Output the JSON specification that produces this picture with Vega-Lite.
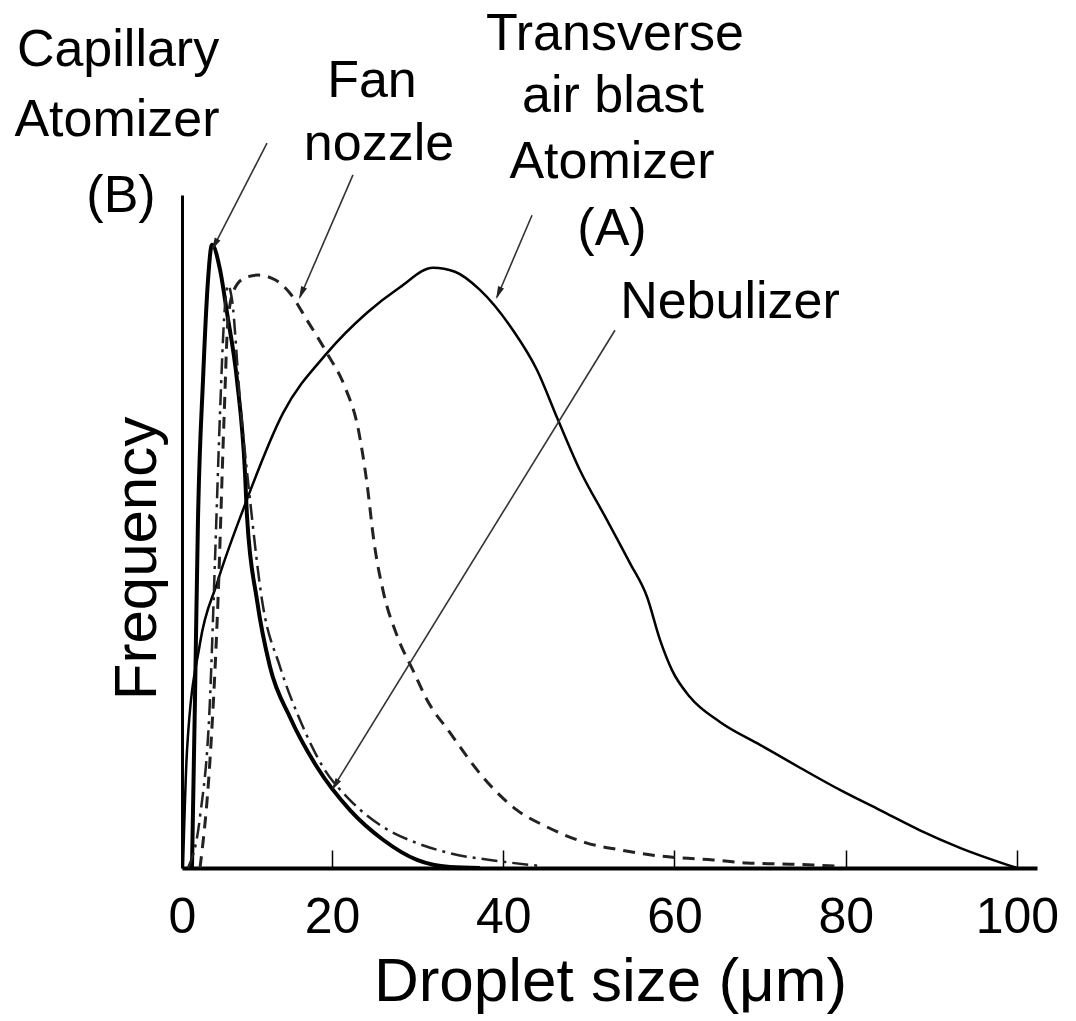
{
  "$schema": "https://vega.github.io/schema/vega-lite/v6.json",
  "width": 855,
  "height": 673,
  "autosize": {"type": "none"},
  "padding": {"left": 182, "top": 195, "right": 39, "bottom": 153},
  "background": "white",
  "config": {"view": {"stroke": null}, "font": "Liberation Sans"},
  "datasets": {
    "curves": [
      {"s": "A", "x": 0.13, "y": 0},
      {"s": "A", "x": 0.67, "y": 17.5},
      {"s": "A", "x": 2.4, "y": 33.4},
      {"s": "A", "x": 4.67, "y": 42.3},
      {"s": "A", "x": 8.13, "y": 53.2},
      {"s": "A", "x": 13.47, "y": 67.6},
      {"s": "A", "x": 19.33, "y": 76.5},
      {"s": "A", "x": 24.09, "y": 82.5},
      {"s": "A", "x": 27.94, "y": 86.3},
      {"s": "A", "x": 31.8, "y": 89.2},
      {"s": "A", "x": 34.36, "y": 88.6},
      {"s": "A", "x": 37.28, "y": 85.9},
      {"s": "A", "x": 41.14, "y": 79.9},
      {"s": "A", "x": 43.94, "y": 74.0},
      {"s": "A", "x": 46.39, "y": 66.6},
      {"s": "A", "x": 48.96, "y": 59.1},
      {"s": "A", "x": 52.12, "y": 51.7},
      {"s": "A", "x": 54.8, "y": 45.3},
      {"s": "A", "x": 56.79, "y": 40.3},
      {"s": "A", "x": 58.31, "y": 33.9},
      {"s": "A", "x": 59.71, "y": 29.4},
      {"s": "A", "x": 61.81, "y": 25.4},
      {"s": "A", "x": 65.31, "y": 21.7},
      {"s": "A", "x": 69.99, "y": 18.3},
      {"s": "A", "x": 74.66, "y": 14.9},
      {"s": "A", "x": 79.33, "y": 11.6},
      {"s": "A", "x": 84.0, "y": 8.6},
      {"s": "A", "x": 88.67, "y": 5.6},
      {"s": "A", "x": 93.34, "y": 3.0},
      {"s": "A", "x": 100, "y": 0},
      {"s": "B", "x": 1.33, "y": 0},
      {"s": "B", "x": 1.73, "y": 25.0},
      {"s": "B", "x": 2.13, "y": 51.7},
      {"s": "B", "x": 2.8, "y": 72.5},
      {"s": "B", "x": 3.47, "y": 87.4},
      {"s": "B", "x": 4.0, "y": 92.6},
      {"s": "B", "x": 5.07, "y": 88.9},
      {"s": "B", "x": 6.0, "y": 82.5},
      {"s": "B", "x": 7.33, "y": 72.5},
      {"s": "B", "x": 8.4, "y": 58.7},
      {"s": "B", "x": 8.67, "y": 52.2},
      {"s": "B", "x": 10.0, "y": 39.8},
      {"s": "B", "x": 11.73, "y": 29.9},
      {"s": "B", "x": 14.4, "y": 22.4},
      {"s": "B", "x": 18.0, "y": 15.0},
      {"s": "B", "x": 22.1, "y": 8.6},
      {"s": "B", "x": 25.96, "y": 4.2},
      {"s": "B", "x": 29.93, "y": 1.2},
      {"s": "B", "x": 33.78, "y": 0.15},
      {"s": "B", "x": 37.3, "y": 0},
      {"s": "F", "x": 2.4, "y": 0},
      {"s": "F", "x": 3.73, "y": 16.0},
      {"s": "F", "x": 4.8, "y": 39.8},
      {"s": "F", "x": 5.6, "y": 66.6},
      {"s": "F", "x": 6.13, "y": 81.4},
      {"s": "F", "x": 6.93, "y": 85.9},
      {"s": "F", "x": 8.4, "y": 87.7},
      {"s": "F", "x": 10.13, "y": 88.1},
      {"s": "F", "x": 12.4, "y": 87.4},
      {"s": "F", "x": 14.4, "y": 85.4},
      {"s": "F", "x": 16.67, "y": 81.4},
      {"s": "F", "x": 19.33, "y": 76.5},
      {"s": "F", "x": 21.5, "y": 71.5},
      {"s": "F", "x": 23.1, "y": 65.0},
      {"s": "F", "x": 24.1, "y": 57.0},
      {"s": "F", "x": 24.9, "y": 48.5},
      {"s": "F", "x": 26.0, "y": 41.0},
      {"s": "F", "x": 27.6, "y": 34.5},
      {"s": "F", "x": 29.6, "y": 29.0},
      {"s": "F", "x": 31.09, "y": 25.0},
      {"s": "F", "x": 33.78, "y": 20.1},
      {"s": "F", "x": 37.63, "y": 13.5},
      {"s": "F", "x": 41.61, "y": 8.6},
      {"s": "F", "x": 45.11, "y": 6.1},
      {"s": "F", "x": 49.78, "y": 3.7},
      {"s": "F", "x": 53.64, "y": 2.7},
      {"s": "F", "x": 57.49, "y": 1.9},
      {"s": "F", "x": 60.65, "y": 1.5},
      {"s": "F", "x": 64.5, "y": 1.2},
      {"s": "F", "x": 68.47, "y": 0.74},
      {"s": "F", "x": 72.33, "y": 0.6},
      {"s": "F", "x": 76.18, "y": 0.45},
      {"s": "F", "x": 78.75, "y": 0.3},
      {"s": "N", "x": 0.8, "y": 0},
      {"s": "N", "x": 2.4, "y": 7.6},
      {"s": "N", "x": 3.73, "y": 25.0},
      {"s": "N", "x": 4.4, "y": 45.8},
      {"s": "N", "x": 5.07, "y": 67.6},
      {"s": "N", "x": 5.6, "y": 81.4},
      {"s": "N", "x": 6.13, "y": 86.6},
      {"s": "N", "x": 6.67, "y": 84.4},
      {"s": "N", "x": 7.73, "y": 69.5},
      {"s": "N", "x": 9.07, "y": 54.7},
      {"s": "N", "x": 10.67, "y": 39.8},
      {"s": "N", "x": 13.07, "y": 29.9},
      {"s": "N", "x": 15.73, "y": 22.0},
      {"s": "N", "x": 18.8, "y": 15.0},
      {"s": "N", "x": 22.1, "y": 10.1},
      {"s": "N", "x": 25.96, "y": 6.1},
      {"s": "N", "x": 29.93, "y": 3.7},
      {"s": "N", "x": 33.78, "y": 2.2},
      {"s": "N", "x": 39.6, "y": 1.0},
      {"s": "N", "x": 44.3, "y": 0.3}
    ],
    "labels": [
      {"t": "Capillary", "x": -8.53, "y": 119.2},
      {"t": "Atomizer", "x": -8.67, "y": 108.8},
      {"t": "(B)", "x": -8.13, "y": 97.5},
      {"t": "Fan", "x": 24.67, "y": 114.6},
      {"t": "nozzle", "x": 25.49, "y": 105.2},
      {"t": "Transverse", "x": 53.05, "y": 121.5},
      {"t": "air blast", "x": 52.82, "y": 112.3},
      {"t": "Atomizer", "x": 52.7, "y": 102.5},
      {"t": "(A)", "x": 52.7, "y": 92.6},
      {"t": "Nebulizer", "x": 66.48, "y": 81.7}
    ],
    "arrows": [
      {"a": "cap", "x": 11.33, "y": 107.7, "x2": 4.13, "y2": 92.1},
      {"a": "fan", "x": 22.45, "y": 103.0, "x2": 15.73, "y2": 84.8},
      {"a": "tab", "x": 43.36, "y": 97.0, "x2": 39.27, "y2": 84.8},
      {"a": "neb", "x": 53.05, "y": 79.9, "x2": 20.12, "y2": 11.9}
    ],
    "heads": [
      {"a": "cap", "x": 4.49, "y": 92.9},
      {"a": "fan", "x": 16.05, "y": 85.7},
      {"a": "tab", "x": 39.55, "y": 85.7},
      {"a": "neb", "x": 20.48, "y": 12.6}
    ]
  },
  "encoding": {
    "x": {
      "field": "x", "type": "quantitative",
      "scale": {"domain": [0, 20, 102.34], "range": [0, 150, 855], "nice": false, "zero": false},
      "axis": {
        "values": [0, 20, 40, 60, 80, 100],
        "labelFontSize": 50, "labelFont": "Liberation Sans", "labelColor": "black",
        "labelFlush": false, "labelOverlap": false,
        "tickSize": -18, "tickWidth": 1.5, "tickColor": "black",
        "domainColor": "black", "domainWidth": 4,
        "labelPadding": 42, "grid": false,
        "title": "Droplet size (μm)", "titleFontSize": 62, "titleFontWeight": "normal",
        "titleFont": "Liberation Sans", "titleColor": "black",
        "titleX": 428, "titleY": 132, "titleBaseline": "alphabetic"
      }
    },
    "y": {
      "field": "y", "type": "quantitative",
      "scale": {"domain": [0, 100], "nice": false},
      "axis": {
        "domain": true, "domainWidth": 3, "domainColor": "black",
        "ticks": false, "labels": false, "grid": false,
        "title": "Frequency", "titleFontSize": 60, "titleFont": "Liberation Sans",
        "titleFontWeight": "normal", "titleColor": "black",
        "titleX": -14, "titleY": 363, "titleBaseline": "bottom", "titleAngle": -90
      }
    }
  },
  "layer": [
    {
      "data": {"name": "curves"},
      "transform": [{"filter": "datum.s == 'A'"}],
      "mark": {"type": "line", "color": "black", "strokeWidth": 2.5, "interpolate": "monotone"}
    },
    {
      "data": {"name": "curves"},
      "transform": [{"filter": "datum.s == 'B'"}],
      "mark": {"type": "line", "color": "black", "strokeWidth": 4, "interpolate": "monotone"}
    },
    {
      "data": {"name": "curves"},
      "transform": [{"filter": "datum.s == 'F'"}],
      "mark": {"type": "line", "color": "#222", "strokeWidth": 3, "strokeDash": [12, 8], "interpolate": "monotone"}
    },
    {
      "data": {"name": "curves"},
      "transform": [{"filter": "datum.s == 'N'"}],
      "mark": {"type": "line", "color": "#222", "strokeWidth": 2.5, "strokeDash": [16, 6, 3, 6], "interpolate": "monotone"}
    },
    {
      "data": {"name": "arrows"},
      "mark": {"type": "rule", "color": "#333", "strokeWidth": 1.6},
      "encoding": {
        "x2": {"field": "x2"},
        "y2": {"field": "y2"}
      }
    },
    {
      "data": {"name": "heads"},
      "mark": {"type": "point", "filled": true, "color": "#222", "opacity": 1, "shape": "M0,-1.2L0.45,0.6L-0.45,0.6Z", "size": 200},
      "encoding": {
        "angle": {"field": "a", "type": "nominal", "scale": {"type": "ordinal", "domain": ["cap", "fan", "tab", "neb"], "range": [207, 203.5, 203, 211.6]}, "legend": null}
      }
    },
    {
      "data": {"name": "labels"},
      "mark": {"type": "text", "font": "Liberation Sans", "fontSize": 52, "color": "black", "align": "center", "baseline": "alphabetic"},
      "encoding": {
        "text": {"field": "t"}
      }
    }
  ]
}
